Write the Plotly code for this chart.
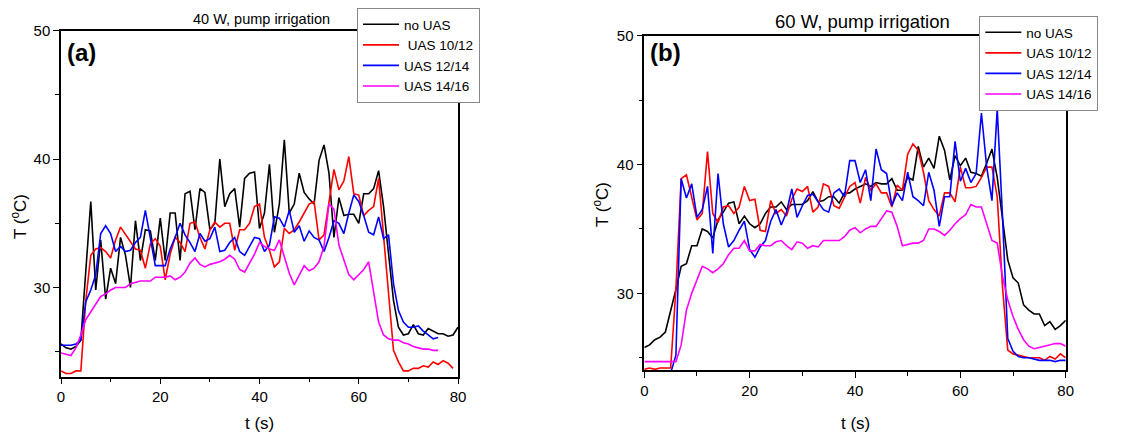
import plotly.graph_objects as go

# ---------------- data ----------------
series_names = ["no UAS", " UAS 10/12", "UAS 12/14", "UAS 14/16"]
series_names_b = ["no UAS", "UAS 10/12", "UAS 12/14", "UAS 14/16"]
series_colors = ["#000000", "#ff0000", "#0000ff", "#ff00ff"]

panel_titles = ["40 W, pump irrigation", "60 W, pump irrigation"]
panel_labels = ["(a)", "(b)"]
x_tick_vals = [0, 20, 40, 60, 80]
y_tick_vals = [30, 40, 50]

# Panel (a): 40 W
a_no_uas = [25.6, 25.3, 25.2, 25.4, 25.9, 31.0, 36.7, 29.8, 33.7, 29.1,
            31.5, 30.3, 33.9, 32.5, 30.0, 35.2, 32.1, 34.5, 34.4, 32.1,
            35.4, 32.1, 35.8, 35.8, 32.1, 37.3, 37.5, 34.5, 37.7, 37.4,
            34.5, 35.0, 40.0, 36.3, 37.3, 37.7, 34.7, 38.5, 38.9, 39.0,
            34.6, 35.8, 39.6, 34.3, 36.5, 41.5, 35.8, 36.5, 38.9, 37.4,
            36.9, 36.5, 39.9, 41.1, 38.9, 33.9, 37.0, 35.6, 35.7, 35.7,
            35.0, 37.3, 37.3, 37.7, 39.1, 36.3, 32.9, 29.0, 26.9, 26.3,
            26.4, 27.1, 26.4, 26.3, 26.8, 26.6, 26.4, 26.4, 26.2, 26.3,
            26.9]
a_uas_10_12 = [23.5, 23.3, 23.3, 23.5, 23.5, 29.0, 32.5, 33.0, 33.1, 32.8,
               32.3, 33.7, 34.7, 34.1, 33.6, 33.0, 32.9, 31.5, 33.4, 33.8,
               33.2, 30.6, 32.6, 33.9, 33.5, 32.8, 35.0, 35.1, 33.9, 33.0,
               34.5, 35.1, 34.7, 35.0, 35.0, 32.9, 34.5, 34.5, 35.0, 36.3,
               36.5, 33.9, 32.9, 31.6, 32.0, 34.6, 34.2, 34.5, 35.1, 35.8,
               36.5, 36.7, 33.7, 34.1, 36.8, 39.2, 37.6, 38.3, 40.2, 37.3,
               37.2, 35.6, 36.0, 36.3, 38.5, 34.2, 29.5, 25.1, 24.2, 23.5,
               23.5, 23.7, 23.7, 23.9, 23.8, 24.2, 24.0, 24.3, 24.1, 23.7]
a_uas_12_14 = [25.5, 25.5, 25.5, 25.6, 25.9, 28.9, 29.8, 31.0, 34.2, 34.8,
               34.2, 32.8, 33.2, 32.8, 32.9, 33.5, 33.9, 36.0, 33.7, 31.7,
               31.7, 31.7, 33.0, 33.9, 35.0, 34.1, 33.5, 32.8, 34.2, 33.6,
               33.8, 34.7, 32.8, 32.9, 33.5, 33.9, 32.8, 32.5, 33.2, 33.9,
               33.8, 32.8, 33.3, 35.5, 35.4, 34.7, 36.0, 34.3, 34.8, 33.6,
               34.4, 33.9, 33.7, 32.8, 33.9, 35.2, 35.0, 34.2, 35.8, 37.2,
               36.7, 35.6, 34.3, 34.1, 35.5, 33.8, 34.1, 30.3, 28.2, 27.3,
               26.9, 26.9, 27.0, 26.6, 26.3, 26.0, 26.1]
a_uas_14_16 = [24.9, 24.8, 24.7, 25.3, 26.3, 27.5, 28.1, 28.6, 29.3, 29.5,
               29.8, 30.0, 30.0, 30.0, 30.3, 30.4, 30.5, 30.5, 30.5, 30.8,
               30.8, 30.8, 30.9, 30.6, 30.8, 31.2, 31.9, 32.3, 31.8, 31.6,
               31.8, 31.9, 32.0, 32.2, 32.5, 32.2, 31.4, 31.2, 31.9, 32.6,
               33.5, 33.2, 33.0, 32.9, 33.7, 32.4, 31.1, 30.2, 31.0, 31.7,
               31.3, 31.5, 32.0, 33.2, 36.5, 36.1, 33.3, 32.1, 31.0, 30.6,
               31.0, 31.4, 32.0, 29.8, 27.3, 26.3, 26.0, 25.9, 25.9, 25.7,
               25.6, 25.4, 25.3, 25.2, 25.2, 25.1, 25.1]

# Panel (b): 60 W
b_no_uas = [25.8, 26.0, 26.4, 26.6, 27.0, 28.6, 30.3, 32.1, 32.3, 33.7,
            33.7, 35.0, 34.8, 34.3, 35.7, 36.3, 37.0, 37.1, 35.4, 36.0,
            35.4, 35.1, 35.4, 36.2, 36.7, 36.7, 37.1, 36.5, 36.9, 36.9,
            36.9, 37.2, 37.9, 37.1, 37.2, 37.5, 37.5, 37.0, 37.8, 37.8,
            38.1, 38.3, 38.5, 38.3, 38.6, 38.5, 38.5, 38.9, 38.0, 38.0,
            39.0, 38.8, 41.4, 39.8, 40.5, 39.7, 42.2, 41.1, 38.8, 40.7,
            39.9, 40.5, 39.4, 39.3, 39.1, 40.1, 41.2, 39.0, 35.9, 32.6,
            31.2, 30.8, 29.1, 28.7, 28.4, 28.4, 27.5, 27.8, 27.2, 27.5,
            27.9]
b_uas_10_12 = [24.1, 24.2, 24.1, 24.2, 24.2, 24.2, 30.3, 38.9, 39.2, 37.5,
               35.7, 36.2, 41.0, 36.2, 35.5, 36.7, 36.8, 36.2, 36.7, 38.3,
               37.2, 37.3, 34.9, 34.8, 37.2, 36.2, 36.5, 36.0, 37.3, 38.1,
               37.9, 38.3, 36.3, 36.7, 38.5, 38.3, 36.8, 36.6, 37.5, 38.3,
               38.6, 37.0, 39.0, 38.0, 38.5, 37.8, 37.8, 36.7, 38.4, 38.0,
               40.8, 41.6, 41.1, 39.4, 37.2, 36.5, 36.0, 37.8, 37.8, 37.1,
               39.8, 38.2, 38.2, 38.3, 39.0, 39.8, 39.8, 37.5, 30.5, 25.6,
               25.3, 25.2, 25.1, 25.0, 25.0, 25.0, 24.8, 25.1, 24.9, 25.3,
               25.0]
b_uas_12_14 = [23.8, 23.8, 23.8, 23.8, 23.8, 23.8, 25.2, 38.9, 37.4, 38.5,
               35.9, 36.5, 38.3, 33.1, 39.3, 35.4, 33.6, 34.1, 34.9, 35.6,
               33.4, 32.8, 33.6, 34.1, 35.6, 36.5, 35.3, 36.3, 38.1, 35.9,
               36.8, 37.6, 37.7, 37.1, 36.5, 36.3, 37.8, 38.1, 37.5, 40.3,
               40.3, 38.6, 39.6, 37.2, 41.2, 39.6, 39.3, 36.8, 37.8, 37.2,
               39.4, 37.5, 37.2, 36.8, 39.4, 38.0, 35.2, 37.5, 37.5, 41.8,
               38.7, 39.7, 38.6, 39.3, 44.0, 39.8, 37.2, 44.3, 36.0, 26.5,
               25.5, 25.1, 25.0, 25.0, 24.9, 24.8, 24.8, 24.8, 24.7, 24.8,
               24.8]
b_uas_14_16 = [24.7, 24.7, 24.7, 24.7, 24.7, 24.7, 24.7, 26.0, 28.7, 30.0,
               31.0, 32.1, 31.9, 31.6, 31.9, 32.3, 33.0, 33.5, 33.5, 34.1,
               33.3, 33.3, 33.8, 33.7, 33.7, 34.0, 34.1, 33.7, 33.4, 34.0,
               33.9, 33.5, 33.7, 33.6, 34.1, 34.1, 34.1, 34.1, 34.4, 34.9,
               35.1, 34.7, 35.0, 35.2, 35.2, 35.8, 36.4, 36.3, 35.2, 33.7,
               33.8, 33.9, 33.9, 34.1, 35.0, 35.0, 34.8, 34.5, 34.9, 35.4,
               35.8, 36.1, 36.9, 36.7, 36.7, 35.4, 34.1, 33.9, 31.3, 29.5,
               28.2, 27.2, 26.4, 25.9, 25.7, 25.8, 25.9, 26.0, 26.1, 26.1,
               25.9]

# ---------------- figure ----------------
W, H = 1142, 435
FONT = "Arial, 'Liberation Sans', sans-serif"

def fx(px):
    return px / W

def fy(py):
    return 1 - py / H

fig = go.Figure()

panel_a = [a_no_uas, a_uas_10_12, a_uas_12_14, a_uas_14_16]
panel_b = [b_no_uas, b_uas_10_12, b_uas_12_14, b_uas_14_16]

for name, color, ys in zip(series_names, series_colors, panel_a):
    fig.add_trace(go.Scatter(
        x=list(range(len(ys))), y=ys, mode="lines", name=name,
        line=dict(color=color, width=1.6),
        xaxis="x", yaxis="y", legend="legend"))

for name, color, ys in zip(series_names_b, series_colors, panel_b):
    fig.add_trace(go.Scatter(
        x=list(range(len(ys))), y=ys, mode="lines", name=name,
        line=dict(color=color, width=1.6),
        xaxis="x2", yaxis="y2", legend="legend2"))

# axis geometry (pixels)
ax_a = dict(l=61, r=458, t=30.7, b=376.7)
ax_b = dict(l=644.3, r=1065.7, t=35.7, b=370)

common_x = dict(
    range=[0, 80], tickvals=x_tick_vals, ticks="outside", ticklen=6,
    tickwidth=1.3, tickcolor="black", showline=True, linecolor="black",
    linewidth=1.5, mirror=True, showgrid=False, zeroline=False,
    tickfont=dict(family=FONT, size=15, color="black"),
    minor=dict(dtick=10, tick0=0, ticks="outside", ticklen=4,
               tickcolor="black", tickwidth=1.3, showgrid=False),
)
common_y = dict(
    tickvals=y_tick_vals, ticks="outside", ticklen=6, tickwidth=1.3,
    tickcolor="black", showline=True, linecolor="black", linewidth=1.5,
    mirror=True, showgrid=False, zeroline=False,
    tickfont=dict(family=FONT, size=15, color="black"),
    minor=dict(dtick=5, tick0=0, ticks="outside", ticklen=4,
               tickcolor="black", tickwidth=1.3, showgrid=False),
)

legend_common = dict(
    bgcolor="white", bordercolor="#888888", borderwidth=1,
    font=dict(family=FONT, size=13.5, color="black"),
    xanchor="left", yanchor="top", tracegroupgap=0,
    itemwidth=36,
)

fig.update_layout(
    width=W, height=H,
    margin=dict(l=0, r=0, t=0, b=0, pad=0, autoexpand=False),
    paper_bgcolor="white", plot_bgcolor="white",
    font=dict(family=FONT, color="black"),
    xaxis=dict(domain=[fx(ax_a["l"]), fx(ax_a["r"])], anchor="y", **common_x),
    yaxis=dict(domain=[fy(ax_a["b"]), fy(ax_a["t"])], anchor="x",
               range=[23.05, 50], **common_y),
    xaxis2=dict(domain=[fx(ax_b["l"]), fx(ax_b["r"])], anchor="y2", **common_x),
    yaxis2=dict(domain=[fy(ax_b["b"]), fy(ax_b["t"])], anchor="x2",
                range=[24.05, 50], **common_y),
    legend=dict(x=fx(357), y=fy(8), **legend_common),
    legend2=dict(x=fx(979.3), y=fy(16), **legend_common),
    showlegend=True,
)

annotations = [
    # panel titles
    dict(text=panel_titles[0], x=fx(261.7), y=fy(19), font=dict(size=14.5)),
    dict(text=panel_titles[1], x=fx(862), y=fy(21.7), font=dict(size=18.5)),
    # panel labels
    dict(text="<b>" + panel_labels[0] + "</b>", x=fx(82), y=fy(53), font=dict(size=24)),
    dict(text="<b>" + panel_labels[1] + "</b>", x=fx(665), y=fy(53), font=dict(size=24)),
    # x-axis titles
    dict(text="t (s)", x=fx(259.5), y=fy(423), font=dict(size=17)),
    dict(text="t (s)", x=fx(855), y=fy(423), font=dict(size=17)),
    # y-axis titles
    dict(text="T (<sup>o</sup>C)", x=fx(19), y=fy(217), textangle=-90, font=dict(size=17)),
    dict(text="T (<sup>o</sup>C)", x=fx(601), y=fy(205), textangle=-90, font=dict(size=17)),
]
for a in annotations:
    a.update(xref="paper", yref="paper", showarrow=False,
             xanchor="center", yanchor="middle")
    a["font"].update(family=FONT, color="black")
fig.update_layout(annotations=annotations)

fig.write_html(
    "out.html",
    config={"displayModeBar": False},
    post_script="document.body.style.margin='0';document.body.style.padding='0';"
                "document.documentElement.style.overflow='hidden';",
)
